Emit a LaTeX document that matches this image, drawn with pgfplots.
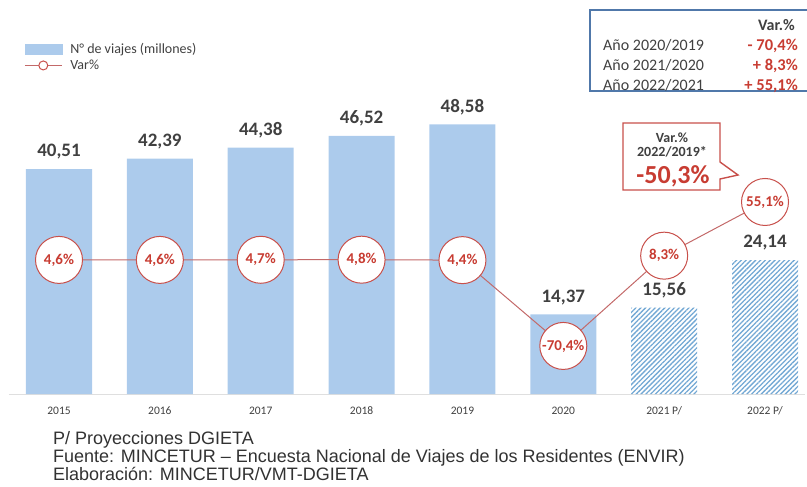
\documentclass[border=0pt]{standalone}
\usepackage{fontspec}
\setmainfont{Carlito}
\newfontfamily\footfam{Liberation Sans}
\usepackage{pgfplots}
\pgfplotsset{compat=1.18}
\usetikzlibrary{patterns.meta}
\definecolor{barblue}{RGB}{172,203,236}
\definecolor{hatchblue}{RGB}{115,168,212}
\definecolor{circRed}{RGB}{200,80,75}
\definecolor{textRed}{RGB}{200,60,50}
\definecolor{lineRed}{RGB}{195,105,105}
\definecolor{labgray}{RGB}{64,64,64}
\definecolor{boxblue}{RGB}{80,120,170}
\definecolor{footgray}{RGB}{50,50,50}
\begin{document}
\begin{tikzpicture}
\useasboundingbox (0,0) rectangle (807bp,-487bp);
% ---- bars ----
\begin{axis}[
  at={(8.57bp,-394bp)}, anchor=south west,
  scale only axis, width=796.8bp, height=333bp,
  xmin=-0.5, xmax=7.4, ymin=0, ymax=60,
  ybar, bar width=66bp, bar shift=0pt,
  hide y axis, axis x line*=bottom,
  x axis line style={-, draw=gray!25, line width=1bp},
  xtick={0,...,7},
  xticklabels={2015,2016,2017,2018,2019,2020,2021 P/,2022 P/},
  major tick length=0pt,
  xticklabel style={font=\fontsize{11.5bp}{13bp}\selectfont, text=labgray, anchor=center, text depth=0pt, yshift=-17bp},
  /pgf/number format/assume math mode=true,
  nodes near coords={\pgfmathprintnumber[fixed,fixed zerofill,precision=2,use comma]{\pgfplotspointmeta}},
  every node near coord/.append style={font=\bfseries\fontsize{19bp}{22bp}\selectfont, text=labgray, anchor=south, inner sep=0pt, text depth=0pt, yshift=12bp},
  clip=false,
]
\addplot[fill=barblue, draw=none] table {
x y
0 40.51
1 42.39
2 44.38
3 46.52
4 48.58
5 14.37
};
\addplot[pattern={Lines[angle=45,distance=3.4bp,line width=1.3bp]}, pattern color=hatchblue, draw=none] table {
x y
6 15.56
7 24.14
};
\end{axis}
% ---- variation line ----
\begin{axis}[
  at={(8.57bp,-394bp)}, anchor=south west,
  scale only axis, width=796.8bp, height=333bp,
  xmin=-0.5, xmax=7.4, ymin=-112.3, ymax=178,
  hide axis, clip=false,
  /pgf/number format/assume math mode=true,
  legend style={at={(axis description cs:0.0195,1.06)}, anchor=north west, draw=none, fill=none,
    font=\fontsize{14bp}{17bp}\selectfont, text=labgray, inner sep=0pt, row sep=1bp,
    cells={anchor=west}},
  legend cell align=left,
  legend columns=1,
]
\addlegendimage{legend image code/.code={\fill[barblue] (0bp,-5bp) rectangle (37bp,5bp); \path (43bp,0bp);}}
\addlegendentry{N° de viajes (millones)}
\addplot[lineRed, line width=1bp, mark=*, mark size=23.5bp,
  mark options={fill=white, draw=circRed, line width=1bp},
  nodes near coords={\pgfmathprintnumber[fixed,fixed zerofill,precision=1,use comma]{\pgfplotspointmeta}\%},
  every node near coord/.append style={anchor=center, font=\bfseries\fontsize{15bp}{17bp}\selectfont, text=textRed, inner sep=0pt},
  legend image code/.code={\draw[lineRed, line width=1bp] (0bp,0bp) -- (37bp,0bp); \draw[circRed, line width=1bp, fill=white] (18.5bp,0bp) circle (4.5bp); \path (43bp,0bp);}
] table {
x y
0 4.6
1 4.6
2 4.7
3 4.8
4 4.4
5 -70.4
6 8.3
7 55.1
};
\addlegendentry{Var\%}
\end{axis}
% ---- top-right box ----
\draw[boxblue, line width=1.3bp] (590bp,-10bp) rectangle (812bp,-91bp);
\node[anchor=base east, font=\bfseries\fontsize{16bp}{18bp}\selectfont, text=labgray, inner sep=0pt] at (795bp,-30bp) {Var.\%};
\node[anchor=base west, font=\fontsize{16bp}{18bp}\selectfont, text=labgray, inner sep=0pt] at (603bp,-50bp) {Año 2020/2019};
\node[anchor=base west, font=\fontsize{16bp}{18bp}\selectfont, text=labgray, inner sep=0pt] at (603bp,-70bp) {Año 2021/2020};
\node[anchor=base west, font=\fontsize{16bp}{18bp}\selectfont, text=labgray, inner sep=0pt] at (603bp,-90bp) {Año 2022/2021};
\node[anchor=base east, font=\bfseries\fontsize{16.5bp}{18bp}\selectfont, text=textRed, inner sep=0pt] at (798bp,-50bp) {- 70,4\%};
\node[anchor=base east, font=\bfseries\fontsize{16.5bp}{18bp}\selectfont, text=textRed, inner sep=0pt] at (798bp,-70bp) {+ 8,3\%};
\node[anchor=base east, font=\bfseries\fontsize{16.5bp}{18bp}\selectfont, text=textRed, inner sep=0pt] at (798bp,-90bp) {+ 55,1\%};
% ---- callout ----
\draw[circRed, line width=1.4bp, fill=white] (623bp,-123bp) -- (720bp,-123bp) -- (720bp,-162bp) -- (738bp,-175bp) -- (720bp,-179bp) -- (720bp,-190bp) -- (623bp,-190bp) -- cycle;
\node[font=\bfseries\fontsize{14bp}{16bp}\selectfont, text=labgray, inner sep=0pt] at (672bp,-138bp) {Var.\%};
\node[font=\bfseries\fontsize{14bp}{16bp}\selectfont, text=labgray, inner sep=0pt] at (672bp,-152bp) {2022/2019*};
\node[font=\bfseries\fontsize{26bp}{28bp}\selectfont, text=textRed, inner sep=0pt] at (673bp,-176bp) {-50,3\%};
% ---- footer ----
\node[anchor=base west, font=\footfam\fontsize{18bp}{20bp}\selectfont, text=footgray, inner sep=0pt] at (53bp,-444bp) {P/ Proyecciones DGIETA};
\node[anchor=base west, font=\footfam\fontsize{18bp}{20bp}\selectfont, text=footgray, inner sep=0pt] at (53bp,-462bp) {Fuente: MINCETUR – Encuesta Nacional de Viajes de los Residentes (ENVIR)};
\node[anchor=base west, font=\footfam\fontsize{18bp}{20bp}\selectfont, text=footgray, inner sep=0pt] at (53bp,-480bp) {Elaboración: MINCETUR/VMT-DGIETA};
\end{tikzpicture}
\end{document}
